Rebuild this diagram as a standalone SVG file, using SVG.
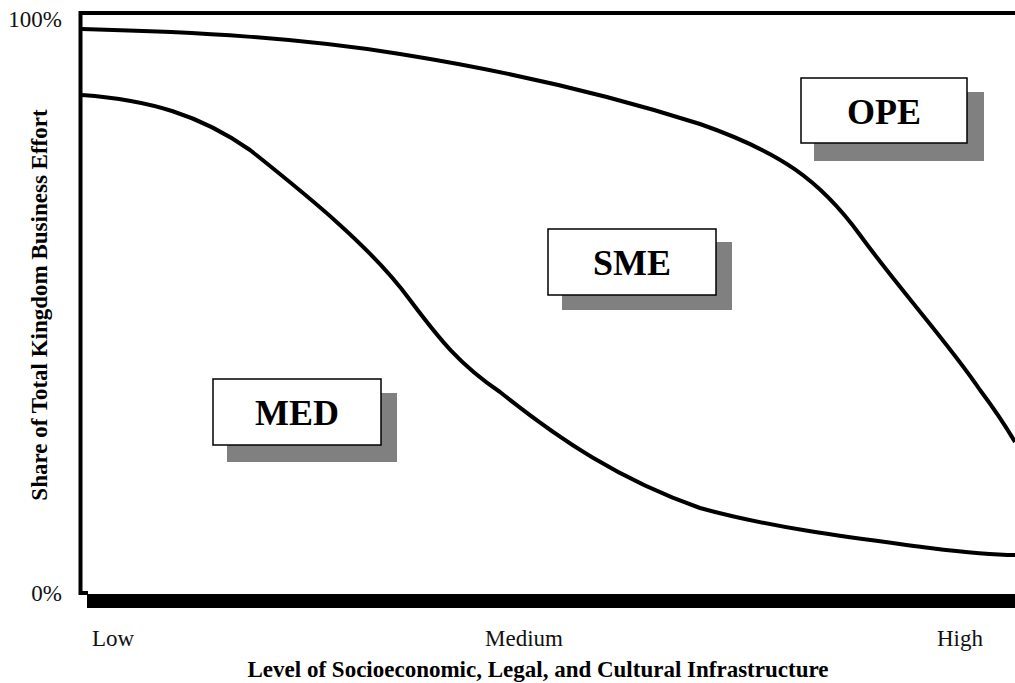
<svg xmlns="http://www.w3.org/2000/svg" width="1015" height="683" viewBox="0 0 1015 683">
<style>
.tick{font-family:"Liberation Serif",serif;font-size:23px;fill:#111}
.title{font-family:"Liberation Serif",serif;font-size:23px;font-weight:bold;fill:#000}
.lbl{font-family:"Liberation Serif",serif;font-size:36px;font-weight:bold;fill:#000;text-anchor:middle}
.box{fill:#fff;stroke:#000;stroke-width:1.5}
.shadow{fill:#808080}
.curve{fill:none;stroke:#000;stroke-width:4;stroke-linejoin:round}
</style>
<rect width="1015" height="683" fill="#fff"/>
<g id="axes">
<rect x="87" y="594" width="928" height="14" fill="#000"/>
<path d="M1015 13 H80.5 V593 H88" fill="none" stroke="#000" stroke-width="4"/>
</g>
<g id="connectors">
<path class="curve" d="M82 29 C200 32 300 38 400 54 C500 70 600 92 700 124 C780 152 820 180 860 235 C900 290 950 345 980 390 C995 410 1005 425 1015 442"/>
<path class="curve" d="M82 95 C150 100 200 115 250 150 C300 190 370 245 410 300 C440 340 460 365 500 392 C560 440 620 480 700 508 C780 530 870 540 930 548 C970 553 990 555 1015 555"/>
</g>
<g id="ticks">
<text class="tick" x="62" y="27" text-anchor="end">100%</text>
<text class="tick" x="62" y="601" text-anchor="end">0%</text>
<text class="tick" x="92" y="646">Low</text>
<text class="tick" x="524" y="646" text-anchor="middle">Medium</text>
<text class="tick" x="983" y="646" text-anchor="end">High</text>
</g>
<g id="xtitle"><text class="title" x="538" y="677" text-anchor="middle">Level of Socioeconomic, Legal, and Cultural Infrastructure</text></g>
<g id="ytitle"><text class="title" transform="translate(47 305) rotate(-90)" text-anchor="middle">Share of Total Kingdom Business Effort</text></g>
<g id="med">
<rect class="shadow" x="227" y="393" width="170" height="69"/>
<rect class="box" x="213" y="379" width="168" height="66"/>
<text class="lbl" x="297" y="425">MED</text>
</g>
<g id="sme">
<rect class="shadow" x="562" y="242" width="170" height="68"/>
<rect class="box" x="548" y="229" width="168" height="66"/>
<text class="lbl" x="632" y="275">SME</text>
</g>
<g id="ope">
<rect class="shadow" x="814" y="92" width="170" height="69"/>
<rect class="box" x="801" y="78" width="166" height="65"/>
<text class="lbl" x="884" y="124">OPE</text>
</g>
</svg>
